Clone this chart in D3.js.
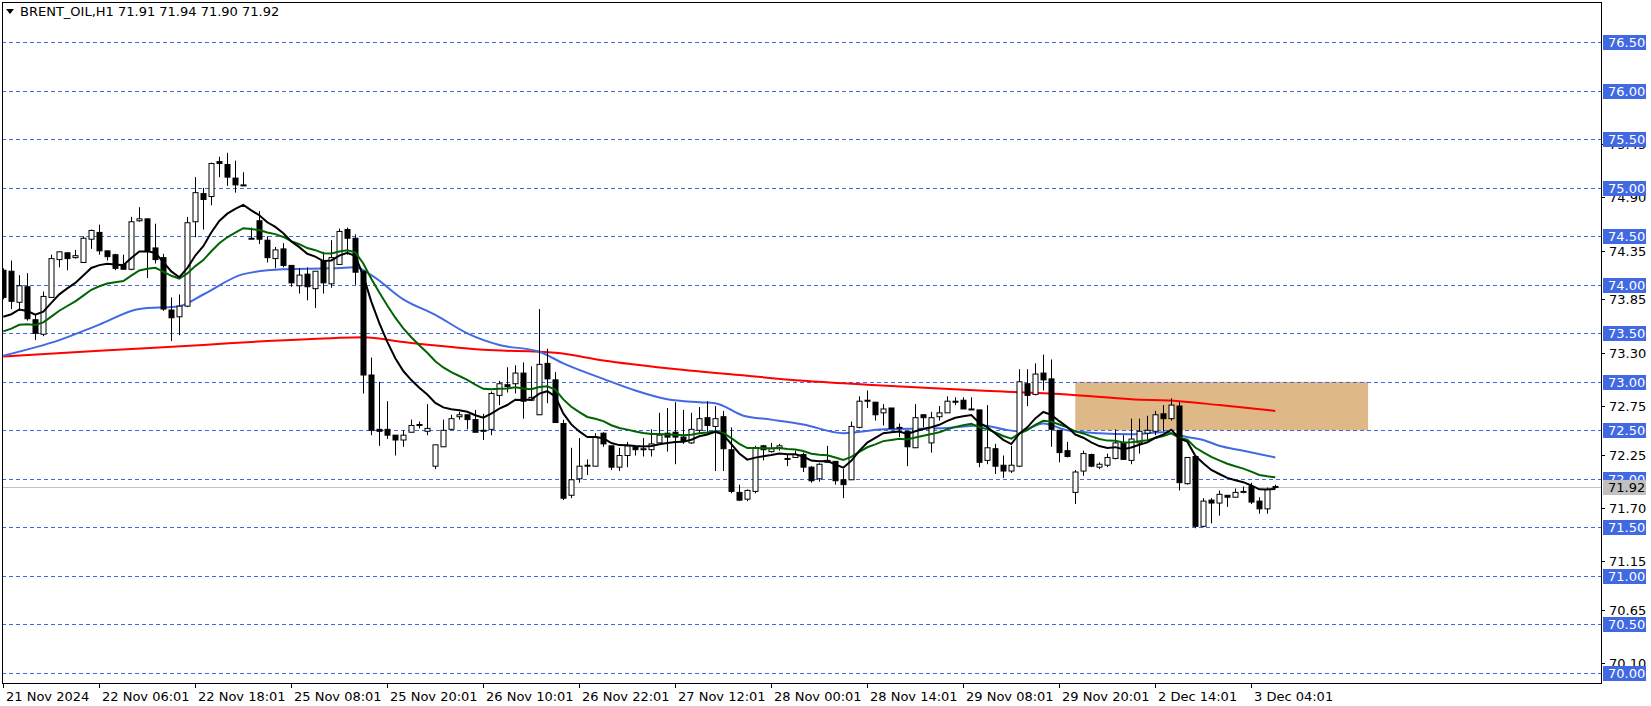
<!DOCTYPE html>
<html><head><meta charset="utf-8">
<script src="https://cdn.jsdelivr.net/npm/d3@7"></script>
<style>body{margin:0;background:#fff}svg{display:block}text{font-family:Tahoma,"DejaVu Sans",sans-serif}</style>
</head><body>
<svg id="c" width="1651" height="706"></svg>
<script>
// OHLC per hourly bar
const opens  = [74.15,74.14,73.82,73.98,73.64,73.49,73.87,74.26,74.33,74.28,74.23,74.47,74.54,74.35,74.31,74.21,74.16,74.66,74.68,74.38,74.28,73.74,73.67,73.78,74.65,74.94,74.91,75.27,75.24,75.10,75.03,74.48,74.66,74.46,74.27,74.37,74.20,73.99,74.11,73.96,74.25,74.01,74.21,74.57,74.48,74.14,73.07,72.51,72.51,72.45,72.40,72.48,72.56,72.49,72.13,72.33,72.51,72.64,72.66,72.61,72.50,72.51,72.86,72.97,72.98,73.09,72.81,72.66,73.19,73.02,72.57,71.83,72.00,72.14,72.13,72.47,72.34,72.12,72.24,72.33,72.31,72.30,72.37,72.47,72.48,72.43,72.37,72.50,72.63,72.54,72.64,72.30,71.86,71.79,71.87,72.34,72.28,72.32,72.21,72.22,72.25,72.12,72.00,72.17,72.18,71.99,71.99,72.53,72.81,72.79,72.68,72.73,72.53,72.49,72.32,72.66,72.37,72.64,72.68,72.80,72.81,72.72,72.71,72.19,72.31,72.14,72.08,72.13,72.98,72.87,73.09,73.03,72.50,72.29,71.86,72.08,72.25,72.12,72.14,72.21,72.37,72.19,72.37,72.47,72.49,72.67,72.62,72.75,71.95,72.23,71.51,71.78,71.75,71.83,71.81,71.87,71.92,71.77,71.69,71.91];
const highs  = [74.17,74.25,74.10,74.12,73.70,73.93,74.31,74.34,74.33,74.36,74.50,74.57,74.62,74.35,74.32,74.31,74.70,74.80,74.68,74.63,74.32,73.87,73.90,74.70,75.11,75.00,75.26,75.32,75.36,75.28,75.16,74.59,74.76,74.50,74.39,74.43,74.20,74.17,74.18,74.14,74.34,74.46,74.58,74.59,74.52,74.14,73.25,73.00,72.80,72.45,72.50,72.61,72.59,72.77,72.35,72.61,72.66,72.69,72.66,72.71,72.67,72.90,73.01,73.15,73.17,73.20,73.16,73.75,73.34,73.10,72.61,72.32,72.42,72.20,72.47,72.48,72.34,72.32,72.38,72.33,72.42,72.51,72.68,72.73,72.79,72.71,72.68,72.74,72.80,72.75,72.70,72.53,71.94,71.89,72.34,72.35,72.37,72.36,72.25,72.29,72.27,72.13,72.16,72.34,72.18,72.10,72.59,72.85,72.91,72.79,72.77,72.73,72.57,72.49,72.77,72.66,72.69,72.75,72.85,72.84,72.84,72.84,72.71,72.76,72.36,72.24,72.34,73.13,73.13,73.19,73.28,73.23,72.50,72.38,72.09,72.29,72.26,72.17,72.26,72.51,72.45,72.62,72.62,72.65,72.70,72.76,72.83,72.79,72.22,72.23,71.80,71.80,71.88,71.83,71.90,71.92,71.96,71.81,71.91,71.94];
const lows   = [73.85,73.75,73.73,73.63,73.43,73.47,73.87,74.18,74.15,74.27,74.23,74.37,74.31,74.25,74.15,74.16,74.15,74.65,74.07,74.22,73.73,73.42,73.48,73.77,74.49,74.57,74.82,75.11,75.02,74.95,75.02,74.48,74.42,74.23,74.17,74.18,73.98,73.91,73.84,73.76,73.91,73.97,74.21,74.31,74.00,72.88,72.45,72.34,72.41,72.24,72.33,72.48,72.52,72.45,72.10,72.33,72.50,72.61,72.51,72.48,72.40,72.45,72.76,72.89,72.88,72.62,72.80,72.66,72.78,72.58,71.78,71.80,71.96,72.04,72.13,72.33,72.09,72.08,72.12,72.24,72.23,72.23,72.37,72.28,72.15,72.36,72.36,72.46,72.46,72.08,72.08,71.85,71.77,71.77,71.85,72.19,72.27,72.29,72.13,72.22,72.07,71.96,71.97,72.17,71.94,71.80,71.99,72.52,72.73,72.60,72.55,72.52,72.43,72.13,72.32,72.53,72.27,72.60,72.68,72.76,72.72,72.71,72.12,72.15,72.05,72.01,72.06,72.12,72.75,72.86,72.91,72.33,72.17,72.22,71.74,72.03,72.12,72.10,72.12,72.20,72.20,72.15,72.26,72.38,72.45,72.49,72.60,71.88,71.94,71.49,71.50,71.54,71.62,71.71,71.81,71.85,71.74,71.64,71.64,71.90];
const closes = [73.87,73.83,73.99,73.65,73.50,73.88,74.27,74.34,74.27,74.30,74.48,74.56,74.35,74.29,74.17,74.16,74.65,74.68,74.35,74.26,73.75,73.66,73.78,74.64,74.95,74.88,75.25,75.25,75.11,75.03,75.03,74.48,74.47,74.28,74.36,74.20,74.02,74.10,73.98,74.14,74.02,74.28,74.55,74.48,74.13,73.07,72.50,72.49,72.45,72.40,72.45,72.55,72.55,72.52,72.35,72.50,72.62,72.66,72.61,72.48,72.50,72.88,72.98,72.95,73.09,72.80,72.84,73.18,73.03,72.58,71.80,71.99,72.13,72.14,72.43,72.36,72.12,72.24,72.34,72.30,72.31,72.36,72.45,72.43,72.43,72.39,72.51,72.62,72.55,72.62,72.31,71.87,71.78,71.88,72.32,72.30,72.31,72.34,72.21,72.25,72.12,71.98,72.15,72.19,71.98,71.94,72.54,72.80,72.80,72.66,72.72,72.52,72.53,72.33,72.63,72.63,72.63,72.68,72.80,72.79,72.72,72.72,72.17,72.32,72.13,72.08,72.14,73.00,72.86,73.08,73.02,72.51,72.27,72.23,72.07,72.26,72.13,72.15,72.22,72.37,72.20,72.41,72.49,72.50,72.66,72.62,72.76,71.96,72.22,71.51,71.77,71.75,71.84,71.81,71.86,71.87,71.76,71.69,71.89,71.92];
// slow averages: [bar, price]
const redMA  = [[0,73.26],[12,73.32],[25,73.38],[33,73.42],[41,73.45],[45,73.46],[50,73.41],[60,73.33],[69,73.30],[75,73.22],[83,73.14],[92,73.07],[100,73.01],[108,72.97],[117,72.93],[125,72.90],[133,72.87],[141,72.82],[147,72.80],[152,72.76],[159,72.70]];
const blueMA = [[0,73.27],[7,73.43],[12,73.59],[17,73.75],[22,73.78],[25,73.90],[30,74.11],[35,74.16],[41,74.17],[44,74.18],[46,74.10],[50,73.85],[54,73.69],[58,73.50],[62,73.38],[67,73.31],[70,73.19],[75,73.03],[79,72.91],[83,72.82],[87,72.79],[89,72.78],[92.5,72.65],[96,72.61],[100,72.56],[105,72.47],[110,72.51],[117,72.52],[122.5,72.55],[125,72.51],[127,72.49],[130,72.57],[133,72.50],[137,72.47],[141,72.46],[145,72.48],[148,72.43],[150,72.40],[152,72.34],[155,72.29],[159,72.22]];
const fastSeeds = {black:73.67, green:73.52};
const fastPeriods = {black:11, green:21};
const priceLevels = [76.5,76.0,75.5,75.0,74.5,74.0,73.5,73.0,72.5,72.0,71.5,71.0,70.5,70.0];
const axisTicks = [75.45,74.90,74.35,73.85,73.30,72.75,72.25,71.70,71.15,70.65,70.10];
const timeLabels = ["21 Nov 2024","22 Nov 06:01","22 Nov 18:01","25 Nov 08:01","25 Nov 20:01","26 Nov 10:01","26 Nov 22:01","27 Nov 12:01","28 Nov 00:01","28 Nov 14:01","29 Nov 08:01","29 Nov 20:01","2 Dec 14:01","3 Dec 04:01"];
const timeLabelBars = [0,12,24,36,48,60,72,84,96,108,120,132,144,156];
const zone = {x0:134, x1:170.6, p0:72.5, p1:73.0};
const title = "BRENT_OIL,H1  71.91 71.94 71.90 71.92";
const lastPrice = 71.92;

const svg = d3.select("#c");
const L=2, R=1601, T=2, B=683;
const x = d3.scaleLinear().domain([0,1]).range([3.3,11.3]);
const y = d3.scaleLinear().domain([70,76.5]).range([672.8,42.3]);

const bars = closes.map((c,i)=>({i,o:opens[i],h:highs[i],l:lows[i],c}));
function ema(seed,n){const a=2/(n+1);let v=seed;return closes.map((c,i)=>{if(i>0)v=v+a*(c-v);return [i,v];});}

const g = svg.append("g");
svg.append("clipPath").attr("id","cp").append("rect").attr("x",L).attr("y",T).attr("width",R-L).attr("height",B-T);
const plot = g.append("g").attr("clip-path","url(#cp)");

plot.append("rect").attr("x",x(zone.x0)).attr("width",x(zone.x1)-x(zone.x0))
  .attr("y",y(zone.p1)).attr("height",y(zone.p0)-y(zone.p1)).attr("fill","#deb887");
plot.selectAll(".lv").data(priceLevels).join("line").attr("x1",L).attr("x2",R)
  .attr("y1",d=>Math.round(y(d))+0.5).attr("y2",d=>Math.round(y(d))+0.5)
  .attr("stroke","#4169e1").attr("stroke-dasharray","4,3").attr("stroke-width",1);
plot.append("line").attr("x1",L).attr("x2",R).attr("y1",Math.round(y(lastPrice))+0.5).attr("y2",Math.round(y(lastPrice))+0.5).attr("stroke","#c0c0c0");

const line = d3.line().x(d=>x(d[0])).y(d=>y(d[1]));
const smooth = d3.line().x(d=>x(d[0])).y(d=>y(d[1])).curve(d3.curveMonotoneX);
plot.append("path").attr("d",smooth(redMA)).attr("fill","none").attr("stroke","#ff0000").attr("stroke-width",2);
plot.append("path").attr("d",smooth(blueMA)).attr("fill","none").attr("stroke","#4169e1").attr("stroke-width",2);

const cg = plot.append("g");
cg.selectAll(".w").data(bars).join("line").attr("x1",d=>Math.round(x(d.i))+0.5).attr("x2",d=>Math.round(x(d.i))+0.5)
  .attr("y1",d=>y(d.h)).attr("y2",d=>y(d.l)).attr("stroke","#000");
cg.selectAll(".b").data(bars).join("rect").attr("x",d=>Math.round(x(d.i))-2).attr("width",5)
  .attr("y",d=>y(Math.max(d.o,d.c))).attr("height",d=>Math.max(1,y(Math.min(d.o,d.c))-y(Math.max(d.o,d.c))))
  .attr("fill",d=>d.c>=d.o?"#fff":"#000").attr("stroke","#000").attr("stroke-width",1);

plot.append("path").attr("d",line(ema(fastSeeds.green,fastPeriods.green))).attr("fill","none").attr("stroke","#006400").attr("stroke-width",2);
plot.append("path").attr("d",line(ema(fastSeeds.black,fastPeriods.black))).attr("fill","none").attr("stroke","#000").attr("stroke-width",2);

g.append("rect").attr("x",L+0.5).attr("y",T+0.5).attr("width",R-L).attr("height",B-T).attr("fill","none").attr("stroke","#000");

const ax = g.append("g");
ax.selectAll(".t").data(axisTicks).join("g").each(function(d){
  const s=d3.select(this), yy=Math.round(y(d));
  s.append("line").attr("x1",R).attr("x2",R+4).attr("y1",yy+0.5).attr("y2",yy+0.5).attr("stroke","#000");
  s.append("text").attr("x",R+8).attr("y",yy+5).attr("font-size",13).attr("fill","#000").text(d.toFixed(2));
});
ax.selectAll(".lb").data(priceLevels).join("g").each(function(d){
  const s=d3.select(this), yy=Math.round(y(d));
  s.append("rect").attr("x",R+2).attr("y",yy-7).attr("width",43).attr("height",15).attr("fill","#4169e1");
  s.append("text").attr("x",R+7).attr("y",yy+5).attr("font-size",13).attr("fill","#fff").text(d.toFixed(2));
});
{const yy=Math.round(y(lastPrice));
 ax.append("rect").attr("x",R+2).attr("y",yy-7).attr("width",43).attr("height",15).attr("fill","#c0c0c0");
 ax.append("text").attr("x",R+7).attr("y",yy+5).attr("font-size",13).attr("fill","#000").text(lastPrice.toFixed(2));}

const tg = g.append("g");
timeLabels.forEach((t,k)=>{
  const xx=Math.round(x(timeLabelBars[k]));
  tg.append("line").attr("x1",xx+0.5).attr("x2",xx+0.5).attr("y1",B).attr("y2",B+5).attr("stroke","#000");
  tg.append("text").attr("x",xx+3).attr("y",B+18).attr("font-size",13).attr("fill","#000").text(t);
});

g.append("path").attr("d","M6,9 L14,9 L10,14 Z").attr("fill","#000");
g.append("text").attr("x",20).attr("y",16).attr("font-size",13).attr("fill","#000").text(title);
</script>
</body></html>
